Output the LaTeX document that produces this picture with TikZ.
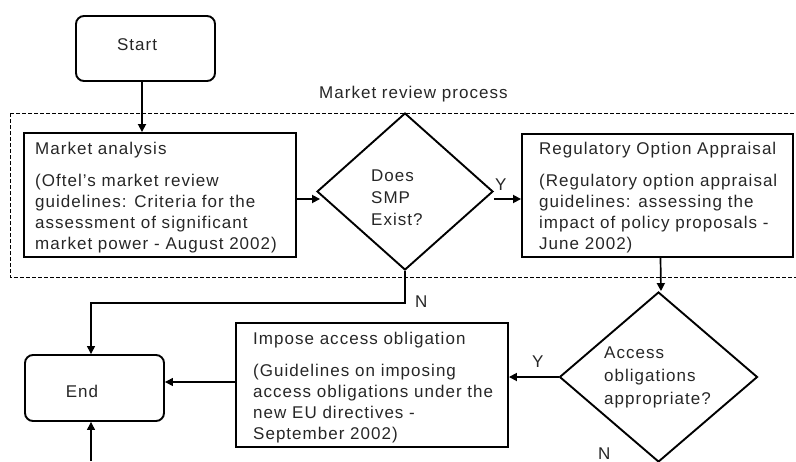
\documentclass[tikz,border=0pt]{standalone}
\usepackage{fontspec}
\setmainfont[LetterSpace=6]{Liberation Sans}
\usetikzlibrary{arrows.meta,shapes.geometric}
\begin{document}
\begin{tikzpicture}[x=1pt,y=-1pt,
  lbl/.style={font=\fontsize{17}{21}\selectfont, inner sep=0pt, align=left, text=black!85},
  box/.style={draw, line width=1.9pt, inner sep=0pt},
  term/.style={box, rounded corners=8pt},
  dec/.style={draw, diamond, line width=1.9pt, inner sep=0pt},
  flow/.style={line width=1.7pt, -{Triangle[length=8pt,width=8pt]}},
  thinflow/.style={line width=1.3pt, -{Triangle[length=8pt,width=8pt]}},
  frame/.style={line width=0.9pt, dash pattern=on 4pt off 2pt}]
\useasboundingbox (0,0) rectangle (796,461);

% dashed frame of the market review process
\draw[frame] (10,113) rectangle (805,277);
\node[lbl, anchor=base west] (mrp) at (319,98) {Market review process};

% terminals
\node[term, minimum width=139pt, minimum height=65pt] (start) at (145.5,48.5) {};
\node[lbl] (starttxt) at (137,45) {Start};
\node[term, minimum width=139pt, minimum height=66pt] (end) at (94.5,388) {};
\node[lbl] (endtxt) at (82,391) {End};

% process boxes
\node[box, minimum width=272pt, minimum height=124pt] (ma) at (160,195) {};
\node[lbl, anchor=north west] (matxt) at (35,142)
  {Market analysis\\[11pt]
   (Oftel’s market review\\
   guidelines: Criteria for the\\
   assessment of significant\\
   market power - August 2002)};

\node[box, minimum width=271pt, minimum height=123pt] (reg) at (657.5,195.5) {};
\node[lbl, anchor=north west] (regtxt) at (539,142)
  {Regulatory Option Appraisal\\[11pt]
   (Regulatory option appraisal\\
   guidelines: assessing the\\
   impact of policy proposals -\\
   June 2002)};

\node[box, minimum width=272pt, minimum height=124pt] (imp) at (372,385) {};
\node[lbl, anchor=north west] (imptxt) at (253,332)
  {Impose access obligation\\[11pt]
   (Guidelines on imposing\\
   access obligations under the\\
   new EU directives -\\
   September 2002)};

% decisions
\node[dec, minimum width=176pt, minimum height=157pt] (d1) at (405,191.5) {};
\node[lbl, anchor=north west] (d1txt) at (371,170)
  {Does\\[1pt] SMP\\[1pt] Exist?};
\node[dec, minimum width=198pt, minimum height=170pt] (d2) at (658.5,377) {};
\node[lbl, anchor=north west] (d2txt) at (604,347)
  {Access\\[2pt] obligations\\[2pt] appropriate?};

% branch labels
\node[lbl, anchor=base west] (y1) at (495,190) {Y};
\node[lbl, anchor=base west] (n1) at (415,307) {N};
\node[lbl, anchor=base west] (y2) at (532,367) {Y};
\node[lbl, anchor=base west] (n2) at (598,459) {N};

% connectors
\draw[flow] ([xshift=-3.5pt]start.south) -- ([xshift=-3.5pt]start.south |- ma.north);
\draw[flow] ([yshift=-4pt]ma.east) -- ([yshift=-4pt,xshift=4pt]ma.east -| d1.west);
\draw[flow] ([yshift=-7.5pt]d1.east) -- ([yshift=-3.5pt]reg.west);
\draw[flow] ([xshift=3pt]reg.south) -- ([xshift=2.5pt]d2.north);
\draw[flow] (d2.west) -- (d2.west -| imp.east);
\draw[thinflow] ([yshift=3pt]imp.west) -- ([yshift=3pt]imp.west -| end.east);
\draw[thinflow] (d1.south) -- ++(0,32) -| ([xshift=-3.5pt]end.north);
\coordinate (below) at (91,461);
\draw[thinflow] (below) -- ([xshift=-3.5pt]end.south);
\end{tikzpicture}
\end{document}
